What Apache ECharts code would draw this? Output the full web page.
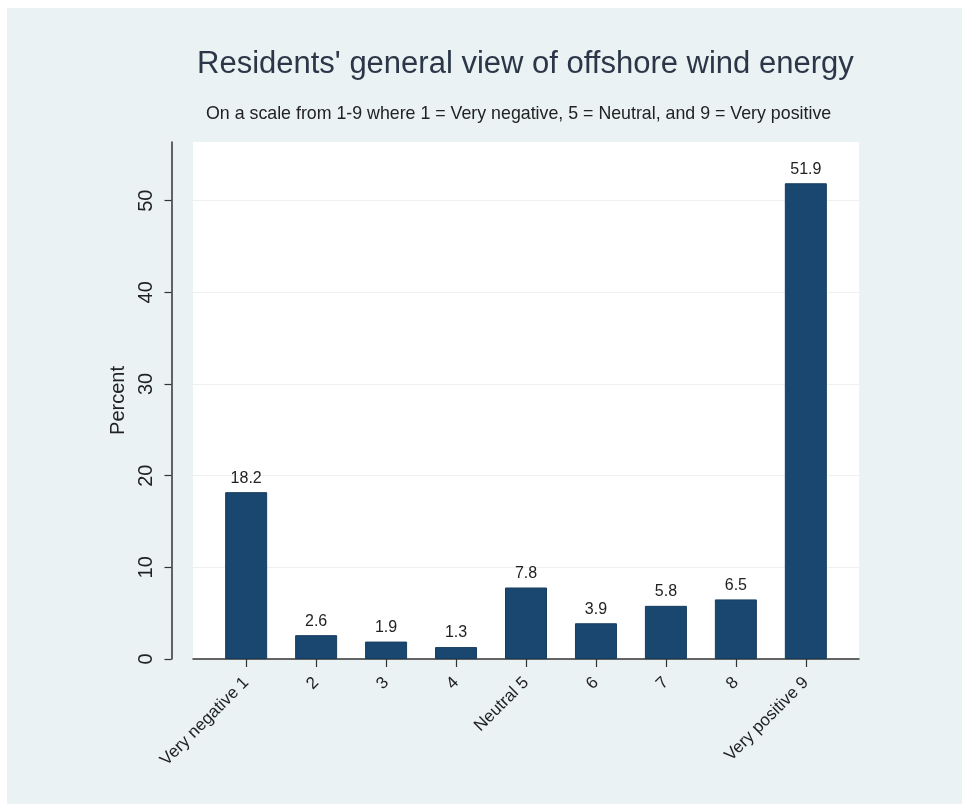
<!DOCTYPE html>
<html>
<head>
<meta charset="utf-8">
<script src="https://cdn.jsdelivr.net/npm/echarts@6/dist/echarts.min.js"></script>
<style>
  html, body { margin: 0; padding: 0; background: #ffffff; }
  #chart { position: absolute; left: 7px; top: 8px; width: 955px; height: 796px; }
</style>
</head>
<body>
<div id="chart"></div>
<script>
// Survey answers on a 1-9 scale
const categories = ['Very negative 1', '2', '3', '4', 'Neutral 5', '6', '7', '8', 'Very positive 9'];
const scalePoints = [1, 2, 3, 4, 5, 6, 7, 8, 9];
const percents = [18.2, 2.6, 1.9, 1.3, 7.8, 3.9, 5.8, 6.5, 51.9];
const yTicks = [0, 10, 20, 30, 40, 50];

const font = '"Liberation Sans", Arial, sans-serif';
const chart = echarts.init(document.getElementById('chart'));

chart.setOption({
  backgroundColor: '#eaf2f3',
  animation: false,
  title: [
    {
      text: "Residents' general view of offshore wind energy",
      left: 185, top: 36,
      textStyle: { fontFamily: font, fontSize: 31, fontWeight: 'normal', color: '#2b3748' }
    },
    {
      text: 'On a scale from 1-9 where 1 = Very negative, 5 = Neutral, and 9 = Very positive',
      left: 194, top: 92,
      textStyle: { fontFamily: font, fontSize: 17.8, fontWeight: 'normal', color: '#222222' }
    }
  ],
  grid: {
    left: 186, right: 103, top: 134, bottom: 145,
    show: true, backgroundColor: '#ffffff', borderWidth: 0
  },
  xAxis: {
    type: 'value',
    min: 0.24, max: 9.76,
    axisLine: { show: true, onZero: false, lineStyle: { color: '#333333', width: 1.5 } },
    axisTick: { show: true, length: 8, customValues: scalePoints, lineStyle: { color: '#333333', width: 1.2 } },
    axisLabel: {
      customValues: scalePoints,
      formatter: v => categories[scalePoints.indexOf(v)],
      rotate: 45, margin: 21,
      fontFamily: font, fontSize: 17, color: '#222222'
    },
    splitLine: { show: false }
  },
  yAxis: {
    type: 'value',
    min: 0, max: 56.4,
    offset: 21.5,
    name: 'Percent',
    nameLocation: 'middle',
    nameGap: 43,
    nameRotate: 90,
    nameTextStyle: { fontFamily: font, fontSize: 20, color: '#222222' },
    axisLine: { show: true, lineStyle: { color: '#333333', width: 1.5 } },
    axisTick: { show: true, length: 7, customValues: yTicks, lineStyle: { color: '#333333', width: 1.2 } },
    axisLabel: {
      customValues: yTicks,
      rotate: 90, margin: 15,
      fontFamily: font, fontSize: 20, color: '#222222'
    },
    splitLine: { show: true, lineStyle: { color: '#eef1f2', width: 1.2 } }
  },
  series: [{
    type: 'bar',
    barWidth: 42,
    data: scalePoints.map((x, i) => [x, percents[i]]),
    itemStyle: { color: '#1a476f', borderColor: '#163d60', borderWidth: 1 },
    label: {
      show: true, position: 'top', distance: 6,
      formatter: p => p.value[1].toFixed(1),
      fontFamily: font, fontSize: 16, color: '#222222'
    }
  }]
});
</script>
</body>
</html>
